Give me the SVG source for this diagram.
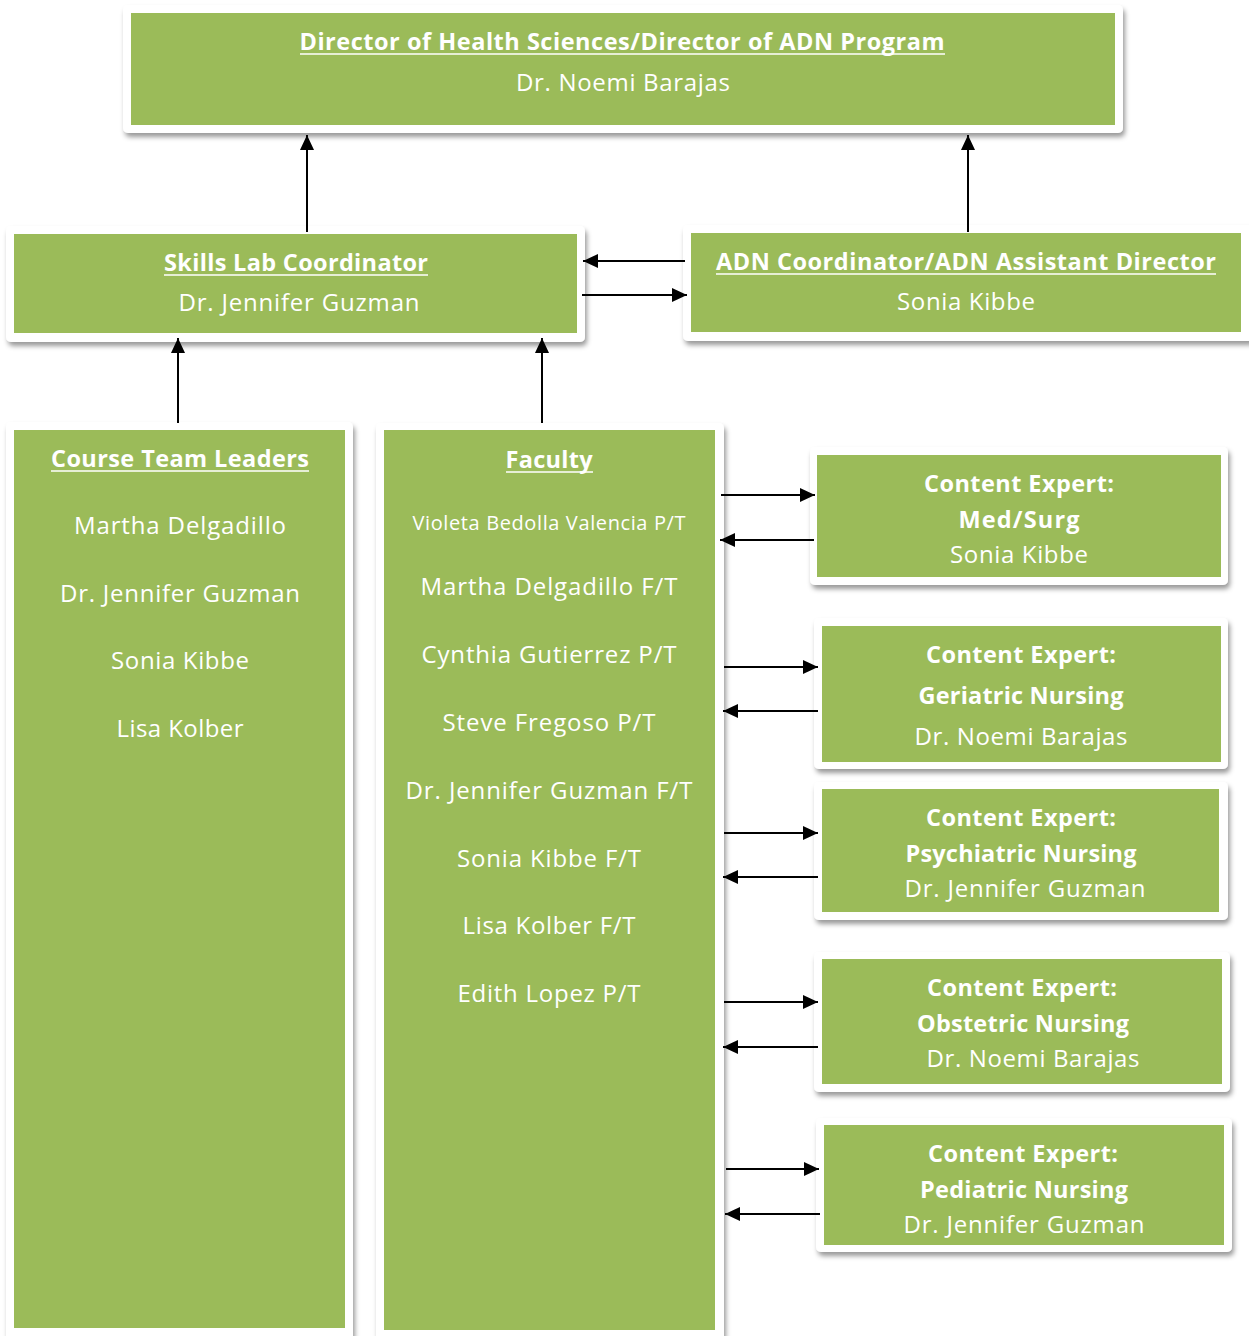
<svg xmlns="http://www.w3.org/2000/svg" width="1249" height="1336" viewBox="0 0 1249 1336">
<defs>
<filter id="sh" x="-5%" y="-5%" width="115%" height="120%">
<feDropShadow dx="2" dy="4" stdDeviation="2.5" flood-color="#000" flood-opacity="0.4"/>
</filter>
<marker id="ah" markerUnits="userSpaceOnUse" markerWidth="15" markerHeight="14" refX="15" refY="7" orient="auto">
<path d="M0,0 L15,7 L0,14 z" fill="#000"/>
</marker>
<style>
.frame{fill:#fff;filter:url(#sh)}
.box{fill:#9BBB59}
text{font-family:"Open Sans","Liberation Sans",sans-serif;fill:#fff;text-anchor:middle;font-size:24px}
.t{font-weight:bold;font-size:23.5px}
.b{font-weight:bold;font-size:23.5px}
.sm{font-size:20px}
.u{stroke:#fff;stroke-width:1.6}
.c line{stroke:#000;stroke-width:2;marker-end:url(#ah)}
</style>
</defs>
<rect width="1249" height="1336" fill="#fff"/>

<g id="director">
<rect class="frame" x="123" y="5" width="1000" height="128" rx="5"/>
<rect class="box" x="131" y="13" width="984" height="112"/>
<text class="t" x="622" y="50" textLength="645" lengthAdjust="spacing">Director of Health Sciences/Director of ADN Program</text>
<line class="u" x1="300" y1="54" x2="945" y2="54"/>
<text x="623" y="91" textLength="214" lengthAdjust="spacing">Dr. Noemi Barajas</text>
</g>

<g id="skills-lab">
<rect class="frame" x="6" y="226" width="579" height="116" rx="5"/>
<rect class="box" x="14" y="234" width="563" height="99"/>
<text class="t" x="296" y="271" textLength="264" lengthAdjust="spacing">Skills Lab Coordinator</text>
<line class="u" x1="164" y1="275" x2="428" y2="275"/>
<text x="299" y="311" textLength="241" lengthAdjust="spacing">Dr. Jennifer Guzman</text>
</g>

<g id="adn-coordinator">
<rect class="frame" x="683" y="225" width="572" height="116" rx="5"/>
<rect class="box" x="691" y="233" width="550" height="99"/>
<text class="t" x="966" y="270" textLength="500" lengthAdjust="spacing">ADN Coordinator/ADN Assistant Director</text>
<line class="u" x1="716" y1="274" x2="1216" y2="274"/>
<text x="966" y="310" textLength="138" lengthAdjust="spacing">Sonia Kibbe</text>
</g>

<g id="course-team-leaders">
<rect class="frame" x="6" y="422" width="347" height="924" rx="5"/>
<rect class="box" x="14" y="430" width="331" height="898"/>
<text class="t" x="180" y="467" textLength="258" lengthAdjust="spacing">Course Team Leaders</text>
<line class="u" x1="51" y1="471" x2="309" y2="471"/>
<text x="180" y="534" textLength="212" lengthAdjust="spacing">Martha Delgadillo</text>
<text x="180" y="602" textLength="240" lengthAdjust="spacing">Dr. Jennifer Guzman</text>
<text x="180" y="669" textLength="138" lengthAdjust="spacing">Sonia Kibbe</text>
<text x="180" y="737" textLength="127" lengthAdjust="spacing">Lisa Kolber</text>
</g>

<g id="faculty">
<rect class="frame" x="376" y="423" width="348" height="924" rx="5"/>
<rect class="box" x="384" y="430" width="331" height="900"/>
<text class="t" x="549" y="468" textLength="87" lengthAdjust="spacing">Faculty</text>
<line class="u" x1="506" y1="472" x2="593" y2="472"/>
<text class="sm" x="549" y="530" textLength="273" lengthAdjust="spacing">Violeta Bedolla Valencia P/T</text>
<text x="549" y="595" textLength="257" lengthAdjust="spacing">Martha Delgadillo F/T</text>
<text x="549" y="663" textLength="255" lengthAdjust="spacing">Cynthia Gutierrez P/T</text>
<text x="549" y="731" textLength="213" lengthAdjust="spacing">Steve Fregoso P/T</text>
<text x="549" y="799" textLength="287" lengthAdjust="spacing">Dr. Jennifer Guzman F/T</text>
<text x="549" y="867" textLength="184" lengthAdjust="spacing">Sonia Kibbe F/T</text>
<text x="549" y="934" textLength="173" lengthAdjust="spacing">Lisa Kolber F/T</text>
<text x="549" y="1002" textLength="183" lengthAdjust="spacing">Edith Lopez P/T</text>
</g>

<g id="ce-medsurg">
<rect class="frame" x="810" y="447" width="418" height="138" rx="5"/>
<rect class="box" x="817" y="455" width="404" height="122"/>
<text class="b" x="1019" y="492" textLength="190" lengthAdjust="spacing">Content Expert:</text>
<text class="b" x="1019" y="528" textLength="121" lengthAdjust="spacing">Med/Surg</text>
<text x="1019" y="563" textLength="138" lengthAdjust="spacing">Sonia Kibbe</text>
</g>

<g id="ce-geriatric">
<rect class="frame" x="814" y="618" width="414" height="151" rx="5"/>
<rect class="box" x="822" y="626" width="399" height="136"/>
<text class="b" x="1021" y="663" textLength="190" lengthAdjust="spacing">Content Expert:</text>
<text class="b" x="1021" y="704" textLength="205" lengthAdjust="spacing">Geriatric Nursing</text>
<text x="1021" y="745" textLength="213" lengthAdjust="spacing">Dr. Noemi Barajas</text>
</g>

<g id="ce-psychiatric">
<rect class="frame" x="814" y="782" width="414" height="138" rx="5"/>
<rect class="box" x="822" y="789" width="397" height="123"/>
<text class="b" x="1021" y="826" textLength="190" lengthAdjust="spacing">Content Expert:</text>
<text class="b" x="1021" y="862" textLength="231" lengthAdjust="spacing">Psychiatric Nursing</text>
<text x="1025" y="897" textLength="241" lengthAdjust="spacing">Dr. Jennifer Guzman</text>
</g>

<g id="ce-obstetric">
<rect class="frame" x="814" y="952" width="416" height="140" rx="5"/>
<rect class="box" x="822" y="959" width="400" height="125"/>
<text class="b" x="1022" y="996" textLength="190" lengthAdjust="spacing">Content Expert:</text>
<text class="b" x="1023" y="1032" textLength="212" lengthAdjust="spacing">Obstetric Nursing</text>
<text x="1033" y="1067" textLength="213" lengthAdjust="spacing">Dr. Noemi Barajas</text>
</g>

<g id="ce-pediatric">
<rect class="frame" x="816" y="1118" width="416" height="134" rx="5"/>
<rect class="box" x="824" y="1125" width="400" height="120"/>
<text class="b" x="1023" y="1162" textLength="190" lengthAdjust="spacing">Content Expert:</text>
<text class="b" x="1024" y="1198" textLength="208" lengthAdjust="spacing">Pediatric Nursing</text>
<text x="1024" y="1233" textLength="241" lengthAdjust="spacing">Dr. Jennifer Guzman</text>
</g>

<g id="connectors" class="c">
<line x1="307" y1="232" x2="307" y2="135"/>
<line x1="968" y1="232" x2="968" y2="135"/>
<line x1="685" y1="261" x2="583" y2="261"/>
<line x1="582" y1="295" x2="687" y2="295"/>
<line x1="178" y1="423" x2="178" y2="338"/>
<line x1="542" y1="423" x2="542" y2="338"/>
<line x1="721" y1="495" x2="815" y2="495"/>
<line x1="814" y1="540" x2="720" y2="540"/>
<line x1="724" y1="667" x2="818" y2="667"/>
<line x1="818" y1="711" x2="723" y2="711"/>
<line x1="724" y1="833" x2="818" y2="833"/>
<line x1="818" y1="877" x2="723" y2="877"/>
<line x1="724" y1="1002" x2="818" y2="1002"/>
<line x1="818" y1="1047" x2="723" y2="1047"/>
<line x1="726" y1="1169" x2="819" y2="1169"/>
<line x1="820" y1="1214" x2="725" y2="1214"/>
</g>
</svg>
